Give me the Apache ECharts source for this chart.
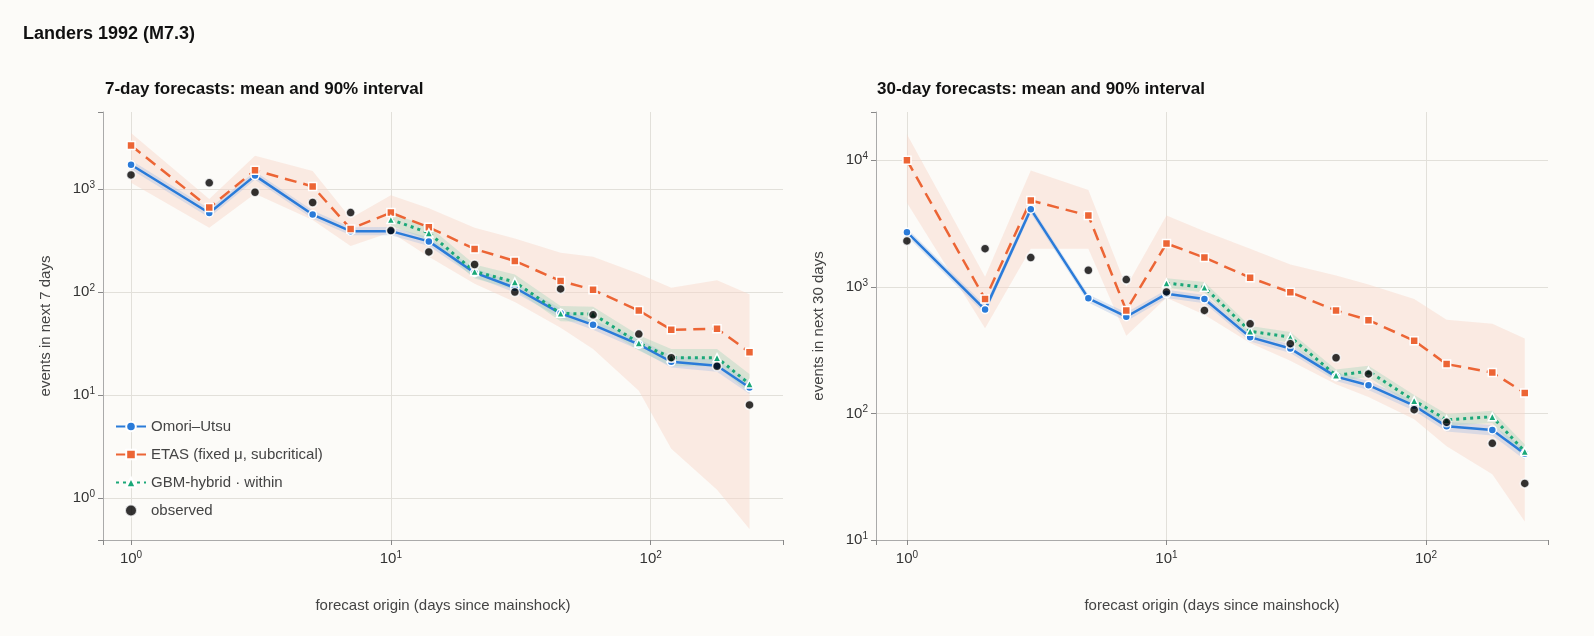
<!DOCTYPE html>
<html>
<head>
<meta charset="utf-8">
<script src="https://cdn.jsdelivr.net/npm/echarts@6/dist/echarts.min.js"></script>
<style>
html,body{margin:0;padding:0;background:#fcfbf8;}
#main{width:1594px;height:636px;}
</style>
</head>
<body>
<div id="main"></div>
<script>
// forecast origins (days since mainshock)
var origins=[1,2,3,5,7,10,14,21,30,45,60,90,120,180,240];
var gbmOrigins=[10,14,21,30,45,60,90,120,180,240];

// 7-day forecasts
var omori7=[1720,585,1350,565,390,390,310,154,110,62,48,31,21,19.2,11.8];
var omori7Lo=[1550,530,1230,515,355,355,280,140,99,56,43,27.5,18.5,16.8,10.2];
var omori7Hi=[1900,645,1480,620,425,428,340,170,122,69,53,35,24,22,13.6];
var etas7=[2650,660,1520,1060,410,590,425,262,200,128,105,66,43,44,26];
var etas7Lo=[1150,420,900,500,280,380,220,120,80,45,28,11,3,1.2,0.5];
var etas7Hi=[3500,800,2100,1500,520,870,650,420,330,240,220,150,110,130,95];
var gbm7=[505,375,158,125,62,61,32,23,23,12.8];
var gbm7Lo=[440,320,135,106,52,51,27,19,19,10.5];
var gbm7Hi=[580,435,185,148,73,72,38,28,28,16];
var obs7=[1370,1150,930,740,590,395,245,185,100,107,60,39,23,19,8.0];

// 30-day forecasts
var omori30=[2700,660,4100,810,580,880,800,400,325,195,167,115,79,74,48];
var omori30Lo=[2500,610,3800,750,535,815,740,370,300,180,153,105,72,67,43];
var omori30Hi=[2900,715,4400,870,625,945,860,430,350,210,180,125,86,81,53];
var etas30=[10000,800,4800,3650,650,2200,1700,1180,905,650,545,375,245,210,145];
var etas30Lo=[4600,470,2000,2000,410,820,600,360,260,170,135,90,55,33,14];
var etas30Hi=[16000,1200,8300,5800,1000,3650,2750,2000,1500,1230,1040,800,550,510,390];
var gbm30=[1070,990,445,400,200,215,126,89,94,50];
var gbm30Lo=[980,900,405,362,180,194,113,80,84,44];
var gbm30Hi=[1170,1090,490,440,222,238,140,99,105,57];
var obs30=[2300,2000,1700,1350,1140,910,650,510,355,275,205,107,85,58,28];

var BLUE='#2a7bd9', ORANGE='#ec6535', GREEN='#1aa878';
var FONT='Liberation Sans';

function pairs(xs,ys){return xs.map(function(x,i){return [x,ys[i]];});}

function band(xi,yi,xs,lo,hi,color,opacity){
    return {
        type:'custom',xAxisIndex:xi,yAxisIndex:yi,silent:true,z:1,
        data:[[xs[0],lo[0]]],
        renderItem:function(params,api){
            var pts=[];
            for(var i=0;i<xs.length;i++) pts.push(api.coord([xs[i],hi[i]]));
            for(var j=xs.length-1;j>=0;j--) pts.push(api.coord([xs[j],lo[j]]));
            return {type:'polygon',shape:{points:pts},style:{fill:color,opacity:opacity}};
        }
    };
}

function powLabel(v){
    var e=Math.log(v)/Math.LN10, r=Math.round(e);
    if(Math.abs(e-r)>1e-6) return '';
    return '10{s|'+r+'}';
}

function xAxis(idx,min,max){
    return {type:'log',gridIndex:idx,min:min,max:max,logBase:10,
        name:'forecast origin (days since mainshock)',nameLocation:'middle',nameGap:58,
        nameTextStyle:{fontSize:15,color:'#444',fontFamily:FONT},
        axisLine:{lineStyle:{color:'#aaa'}},
        axisTick:{length:5,lineStyle:{color:'#888'}},
        axisLabel:{formatter:powLabel,fontSize:15,color:'#333',margin:10,fontFamily:FONT,
            rich:{s:{fontSize:10,verticalAlign:'top',padding:[0,0,8,0],color:'#333'}}},
        splitLine:{show:true,showMinLine:false,showMaxLine:false,lineStyle:{color:'#e2e0da'}}};
}
function yAxis(idx,min,max,name){
    return {type:'log',gridIndex:idx,min:min,max:max,logBase:10,
        name:name,nameLocation:'middle',nameGap:50,
        nameTextStyle:{fontSize:15,color:'#444',fontFamily:FONT},
        axisLine:{show:true,lineStyle:{color:'#aaa'}},
        axisTick:{show:true,length:5,lineStyle:{color:'#888'}},
        axisLabel:{formatter:powLabel,fontSize:15,color:'#333',fontFamily:FONT,
            rich:{s:{fontSize:10,verticalAlign:'top',padding:[0,0,8,0],color:'#333'}}},
        splitLine:{show:true,showMinLine:false,showMaxLine:false,lineStyle:{color:'#e2e0da'}}};
}

function panel(idx,om,omLo,omHi,et,etLo,etHi,gb,gbLo,gbHi,ob,names){
    var sfx=names?'':' ';
    return [
        band(idx,idx,origins,etLo,etHi,'#f8d5c8',0.45),
        band(idx,idx,origins,omLo,omHi,'#9dbbe6',0.35),
        band(idx,idx,gbmOrigins,gbLo,gbHi,'#9ad3b8',0.35),
        {name:'Omori–Utsu'+sfx,type:'line',xAxisIndex:idx,yAxisIndex:idx,data:pairs(origins,om),z:3,
            symbol:'circle',symbolSize:8,color:BLUE,lineStyle:{width:2.5,color:BLUE},
            itemStyle:{color:BLUE,borderColor:'#fff',borderWidth:1.5}},
        {name:'ETAS (fixed μ, subcritical)'+sfx,type:'line',xAxisIndex:idx,yAxisIndex:idx,data:pairs(origins,et),z:3,
            symbol:'rect',symbolSize:8,color:ORANGE,lineStyle:{width:2.5,color:ORANGE,type:[12,7]},
            itemStyle:{color:ORANGE,borderColor:'#fff',borderWidth:1.5}},
        {name:'GBM-hybrid · within'+sfx,type:'line',xAxisIndex:idx,yAxisIndex:idx,data:pairs(gbmOrigins,gb),z:3,
            symbol:'triangle',symbolSize:8,color:GREEN,lineStyle:{width:3,color:GREEN,type:[3,4]},
            itemStyle:{color:GREEN,borderColor:'#fff',borderWidth:1.5}},
        {name:'observed'+sfx,type:'scatter',xAxisIndex:idx,yAxisIndex:idx,data:pairs(origins,ob),z:4,
            symbol:'circle',symbolSize:9,color:'#000',itemStyle:{color:'#000',borderColor:'#fff',borderWidth:1.5}}
    ];
}

var chart=echarts.init(document.getElementById('main'));
chart.setOption({
    backgroundColor:'#fcfbf8',
    animation:false,
    textStyle:{fontFamily:FONT},
    title:[
        {text:'Landers 1992 (M7.3)',left:18,top:20,textStyle:{fontSize:18,fontWeight:'bold',color:'#111',fontFamily:FONT}},
        {text:'7-day forecasts: mean and 90% interval',left:100,top:76,textStyle:{fontSize:17,fontWeight:'bold',color:'#111',fontFamily:FONT}},
        {text:'30-day forecasts: mean and 90% interval',left:872,top:76,textStyle:{fontSize:17,fontWeight:'bold',color:'#111',fontFamily:FONT}}
    ],
    legend:{left:110,top:414,orient:'vertical',itemGap:13,itemWidth:30,itemHeight:12,
        data:['Omori–Utsu','ETAS (fixed μ, subcritical)','GBM-hybrid · within','observed'],
        textStyle:{fontSize:15,color:'#444',fontFamily:FONT}},
    grid:[
        {left:103,right:1594-783,top:112,bottom:636-540},
        {left:876,right:1594-1548,top:112,bottom:636-540}
    ],
    xAxis:[xAxis(0,0.78,323),xAxis(1,0.76,295)],
    yAxis:[yAxis(0,0.39,5600,'events in next 7 days'),yAxis(1,10,24000,'events in next 30 days')],
    series:[].concat(
        panel(0,omori7,omori7Lo,omori7Hi,etas7,etas7Lo,etas7Hi,gbm7,gbm7Lo,gbm7Hi,obs7,true),
        panel(1,omori30,omori30Lo,omori30Hi,etas30,etas30Lo,etas30Hi,gbm30,gbm30Lo,gbm30Hi,obs30,false)
    )
});
</script>
</body>
</html>
